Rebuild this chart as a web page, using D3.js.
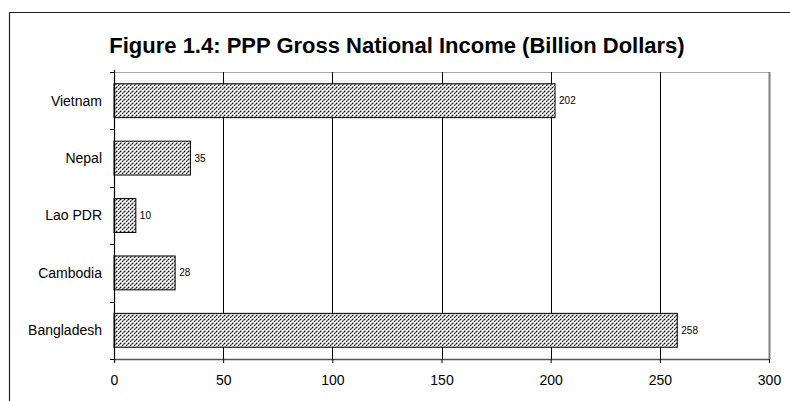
<!DOCTYPE html>
<html>
<head>
<meta charset="utf-8">
<script src="https://cdn.jsdelivr.net/npm/d3@7"></script>
<style>
  html, body { margin: 0; padding: 0; background: #fff; }
  svg { display: block; font-family: "Liberation Sans", Arial, sans-serif; }
</style>
</head>
<body>
<svg id="chart" width="790" height="401"></svg>
<script>
// Categories listed top to bottom as drawn
const countries = ["Vietnam", "Nepal", "Lao PDR", "Cambodia", "Bangladesh"];
const gniValues = [202, 35, 10, 28, 258];
const xTicks = [0, 50, 100, 150, 200, 250, 300];
const titleText = "Figure 1.4: PPP Gross National Income (Billion Dollars)";

const svg = d3.select("#chart");
const plot = { left: 114, right: 769, top: 72, bottom: 359 };

// Hatched fill for the bars
const defs = svg.append("defs");
const pat = defs.append("pattern")
  .attr("id", "hatch")
  .attr("patternUnits", "userSpaceOnUse")
  .attr("width", 4).attr("height", 4);
pat.append("rect").attr("width", 4).attr("height", 4).attr("fill", "#fff");
pat.append("path")
  .attr("d", "M-1,1 L1,-1 M0,4 L4,0 M3,5 L5,3")
  .attr("stroke", "#000").attr("stroke-width", 1.1)
  .attr("stroke-dasharray", "2,1");

// Outer frame (runs off the right and bottom edges)
svg.append("path")
  .attr("d", "M9.5,401 L9.5,12.5 L790,12.5")
  .attr("fill", "none").attr("stroke", "#222").attr("stroke-width", 1.2);

// Title
svg.append("text")
  .attr("x", 397).attr("y", 53)
  .attr("text-anchor", "middle")
  .attr("font-size", 22).attr("font-weight", "bold")
  .attr("fill", "#000")
  .text(titleText);

const x = d3.scaleLinear().domain([0, 300]).range([plot.left, plot.right]);
const y = d3.scaleBand().domain(countries).range([plot.top, plot.bottom])
  .paddingInner(0.41).paddingOuter(0.205);

// Plot area border
svg.append("line")
  .attr("x1", plot.left).attr("x2", plot.right)
  .attr("y1", plot.top + 0.5).attr("y2", plot.top + 0.5)
  .attr("stroke", "#aaa").attr("stroke-width", 1);
svg.append("line")
  .attr("x1", plot.right + 0.5).attr("x2", plot.right + 0.5)
  .attr("y1", plot.top).attr("y2", plot.bottom)
  .attr("stroke", "#808080").attr("stroke-width", 2);

// Vertical gridlines
svg.append("g").selectAll("line")
  .data(xTicks.filter(d => d > 0 && d < 300))
  .join("line")
  .attr("x1", d => Math.round(x(d)) + 0.5).attr("x2", d => Math.round(x(d)) + 0.5)
  .attr("y1", plot.top).attr("y2", plot.bottom)
  .attr("stroke", "#000").attr("stroke-width", 1);

// Bars
svg.append("g").selectAll("rect")
  .data(countries)
  .join("rect")
  .attr("x", x(0))
  .attr("y", d => y(d))
  .attr("width", (d, i) => x(gniValues[i]) - x(0))
  .attr("height", y.bandwidth())
  .attr("fill", "url(#hatch)")
  .attr("stroke", "#000").attr("stroke-width", 1);

// Value labels
svg.append("g").selectAll("text")
  .data(countries)
  .join("text")
  .attr("x", (d, i) => x(gniValues[i]) + 4)
  .attr("y", d => y(d) + y.bandwidth() / 2)
  .attr("dy", "0.35em")
  .attr("font-size", 10).attr("fill", "#000")
  .text((d, i) => gniValues[i]);

// X axis
const xAxis = svg.append("g")
  .attr("transform", `translate(0,${plot.bottom})`)
  .call(d3.axisBottom(x).tickValues(xTicks).tickSize(4).tickSizeOuter(0).tickPadding(12));
xAxis.select(".domain").attr("stroke", "#555").attr("stroke-width", 1.5);
xAxis.selectAll(".tick line").attr("stroke", "#000");
xAxis.selectAll("text").attr("font-size", 14).attr("font-family", "Liberation Sans, Arial, sans-serif").attr("fill", "#000");

// Y axis: boundary ticks between categories, labels at band centers
const step = y.step();
const bounds = d3.range(countries.length + 1).map(i => plot.top + i * (plot.bottom - plot.top) / countries.length);
const yAxis = svg.append("g");
yAxis.append("line")
  .attr("x1", plot.left + 0.5).attr("x2", plot.left + 0.5)
  .attr("y1", plot.top - 2).attr("y2", plot.bottom + 4)
  .attr("stroke", "#000").attr("stroke-width", 1.2);
yAxis.selectAll("line.bt")
  .data(bounds)
  .join("line").attr("class", "bt")
  .attr("x1", plot.left - 4).attr("x2", plot.left)
  .attr("y1", d => Math.round(d) + 0.5).attr("y2", d => Math.round(d) + 0.5)
  .attr("stroke", "#000");
yAxis.selectAll("text")
  .data(countries)
  .join("text")
  .attr("x", plot.left - 12)
  .attr("y", d => y(d) + y.bandwidth() / 2)
  .attr("dy", "0.35em")
  .attr("text-anchor", "end")
  .attr("font-size", 14).attr("fill", "#000")
  .text(d => d);
</script>
</body>
</html>
